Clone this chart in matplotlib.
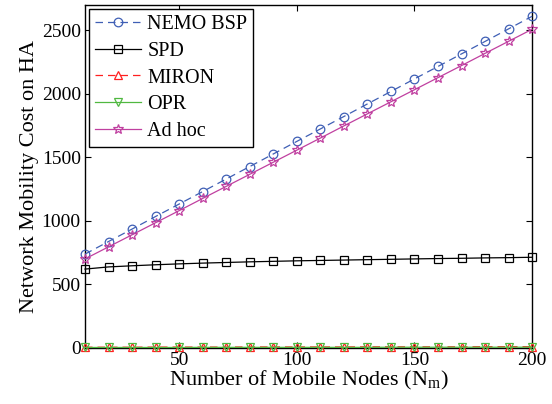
import numpy as np
import matplotlib.pyplot as plt

plt.rcParams['font.family'] = ['Liberation Serif', 'DejaVu Serif']
plt.rcParams['mathtext.fontset'] = 'custom'
plt.rcParams['mathtext.rm'] = 'Liberation Serif'

# data
nodes = [10, 20, 30, 40, 50, 60, 70, 80, 90, 100,
         110, 120, 130, 140, 150, 160, 170, 180, 190, 200]
nemo_bsp = [738, 837, 935, 1034, 1132, 1230, 1329, 1427, 1526, 1625,
            1723, 1821, 1920, 2018, 2117, 2215, 2314, 2412, 2511, 2610]
spd = [620, 637, 646, 654, 661, 667, 672, 677, 681, 685,
       688, 691, 694, 697, 700, 703, 705, 708, 710, 713]
miron = [5, 5, 5, 6, 6, 6, 6, 7, 7, 7, 7, 7, 8, 8, 8, 8, 8, 9, 9, 9]
opr = [3, 3, 3, 3, 3, 4, 4, 4, 4, 4, 4, 4, 4, 5, 5, 5, 5, 5, 5, 5]
ad_hoc = [700, 795, 890, 985, 1080, 1176, 1271, 1366, 1461, 1556,
          1651, 1747, 1842, 1937, 2032, 2127, 2222, 2318, 2413, 2508]

fig = plt.figure(figsize=(5.52, 4.04), dpi=100, facecolor='white')
ax = fig.add_axes([0.154, 0.139, 0.81, 0.849])

kw = dict(lw=0.9, mfc='none', mew=0.9, clip_on=False)
ax.plot(nodes, nemo_bsp, '--o', color='#3f5fb5', ms=6.2, dashes=(6, 4),
        label='NEMO BSP', **kw)
ax.plot(nodes, spd, '-s', color='black', ms=5.8, label='SPD', **kw)
ax.plot(nodes, miron, '--^', color='#ff2020', ms=6.2, dashes=(6, 4),
        label='MIRON', **kw)
ax.plot(nodes, opr, '-v', color='#50b840', ms=6.2, label='OPR', **kw)
ax.plot(nodes, ad_hoc, '-*', color='#c040a0', ms=7.5, label='Ad hoc', **kw)

ax.set_xlim(10, 200)
ax.set_ylim(0, 2700)
ax.set_xticks([50, 100, 150, 200])
ax.set_yticks([0, 500, 1000, 1500, 2000, 2500])
ax.tick_params(direction='in', top=True, right=True, labelsize=14,
               length=4, width=0.8, pad=3)
for s in ax.spines.values():
    s.set_linewidth(1.0)
    s.set_zorder(1)

ax.set_xlabel(r'Number of Mobile Nodes (N$_{\rm m}$)', fontsize=16, labelpad=0)
ax.set_ylabel('Network Mobility Cost on HA', fontsize=16, labelpad=2)

leg = ax.legend(loc='upper left', fontsize=14.5, frameon=True, fancybox=False,
                edgecolor='black', framealpha=1, borderaxespad=0.2,
                handlelength=2.3, labelspacing=0.38, borderpad=0.3,
                handletextpad=0.3)
leg.get_frame().set_linewidth(1.0)
leg.set_zorder(5)

fig.savefig('out.png', dpi=100)
